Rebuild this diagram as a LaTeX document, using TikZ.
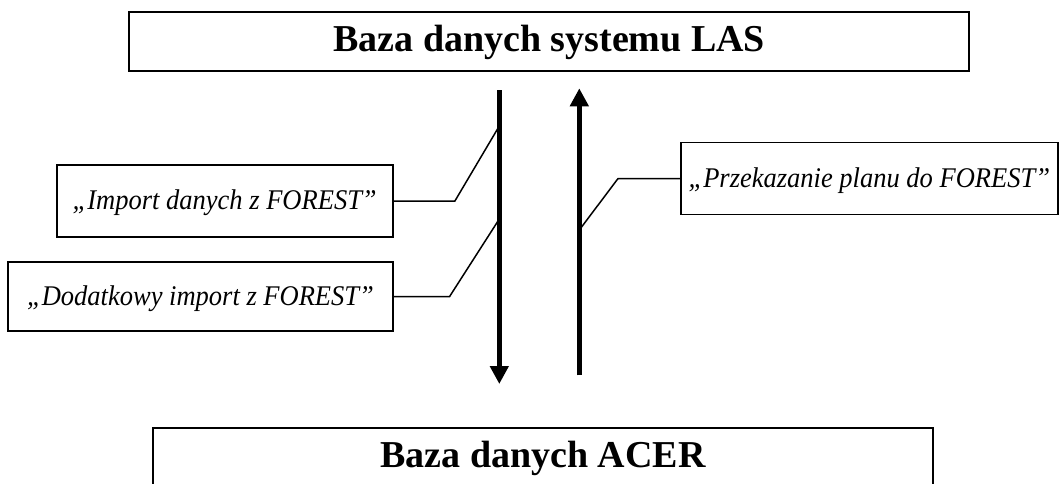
\documentclass[tikz,border=0pt]{standalone}
\usepackage{fontspec}
\setmainfont{Liberation Serif}
\newfontfamily\opfont[FakeStretch=0.93]{Liberation Serif}
\usetikzlibrary{arrows.meta}
\tikzset{
	dbbox/.style={draw, line width=2pt, inner sep=0pt, minimum height=59pt, text height=25pt, text depth=5pt, font=\fontsize{38}{42}\selectfont\bfseries},
	opbox/.style={draw, line width=1.8pt, inner sep=0pt, text height=19pt, text depth=2pt, font=\opfont\fontsize{28.5}{32}\selectfont\itshape},
	flow/.style={line width=4.6pt, -{Triangle[length=18pt,width=18pt]}},
	tag/.style={line width=1.5pt}
}

\begin{document}
\begin{tikzpicture}[x=1pt,y=-1pt]
		%%%%% START %%%%%
		\useasboundingbox (0,0) rectangle (1059,483);
		\clip (0,0) rectangle (1059,483);
		
		\node[dbbox, minimum width=840pt] (las) at (549.2,41.2) {Baza danych systemu LAS};
		\node[dbbox, minimum width=780pt] (acer) at (543,457.2) {Baza danych ACER};
		
		\node[opbox, minimum width=336pt, minimum height=71.6pt] (imp) at (224.7,201) {„Import danych z FOREST”};
		\node[opbox, minimum width=384.4pt, minimum height=69pt] (addimp) at (200.5,296.5) {„Dodatkowy import z FOREST”};
		\node[opbox, minimum width=377.3pt, minimum height=72pt] (plan) at (869.3,178.5) {„Przekazanie planu do FOREST”};
		
		\coordinate (dnA) at (499.3,90);
		\coordinate (dnB) at (499.3,384);
		\coordinate (upA) at (579.3,375.3);
		\coordinate (upB) at (579.3,88.3);
		
		\coordinate (impOn) at (499.3,126);
		\coordinate (addOn) at (499.3,219);
		\coordinate (planOn) at (579.3,230);
		
		\draw[tag] (imp.east) -- ++(61.3,0) -- (impOn);
		\draw[tag] (addimp.east) -- ++(56,0) -- (addOn);
		\draw[tag] (plan.west) -- ++(-61.7,0) -- (planOn);
		
		\draw[flow] (dnA) -- (dnB);
		\draw[flow] (upA) -- (upB);
		%%%%% END %%%%%
\end{tikzpicture}
\end{document}
